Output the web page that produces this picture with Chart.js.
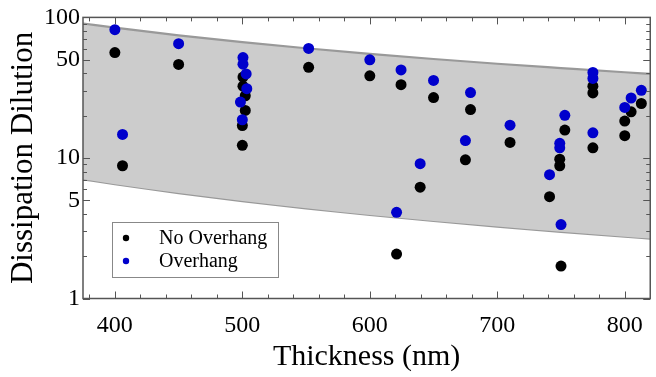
<!DOCTYPE html>
<html>
<head>
<meta charset="utf-8">
<script src="https://cdn.jsdelivr.net/npm/chart.js@4.4.1/dist/chart.umd.min.js"></script>
<style>
    html, body { margin: 0; padding: 0; background: #fff; }
    #wrap { width: 656px; height: 377px; }
</style>
</head>
<body>
<div id="wrap"><canvas id="dilutionChart"></canvas></div>
<script>
// Mesures sans surplomb
const noOverhangX = [400, 450, 406, 500.5, 500.5, 502.3, 502.3, 500, 500, 552, 600, 624.5, 650, 639.5, 621,
    675, 679, 710, 741, 753, 749, 749, 750, 775, 775, 775, 800, 800, 805, 813];
const noOverhangY = [56.2, 46.3, 8.8, 37.6, 32.4, 27.7, 21.8, 17.0, 12.3, 44.1, 38.4, 33.2, 26.9, 6.2, 2.07,
    9.7, 22.1, 12.9, 5.3, 15.8, 9.8, 8.8, 1.70, 32.4, 29.0, 11.8, 18.3, 14.4, 21.3, 24.4];

// Mesures avec surplomb
const overhangX = [400, 450, 406, 500.5, 500.5, 503, 503.5, 498.5, 500, 552, 600, 624.5, 650, 639.5, 621,
    675, 679, 710, 741, 753, 749, 749, 750, 775, 775, 775, 800, 805, 813];
const overhangY = [81.8, 65.0, 14.7, 51.8, 46.5, 39.6, 31.1, 25.0, 18.7, 60.2, 49.9, 42.3, 35.6, 9.1, 4.1,
    13.3, 29.2, 17.1, 7.6, 20.1, 12.7, 11.8, 3.36, 40.6, 36.8, 15.1, 22.9, 26.7, 30.3];

// Bande théorique (bornes haute et basse)
const bandX = [375, 400, 450, 500, 550, 600, 650, 700, 750, 800, 820];
const bandUpper = [90.5, 84.5, 74.5, 66.7, 60.3, 55.0, 50.6, 46.8, 43.6, 40.7, 39.7];
const bandLower = [7.05, 6.51, 5.62, 4.93, 4.38, 3.93, 3.56, 3.25, 2.98, 2.75, 2.67];

// Graduations
const xTicks = [380, 400, 420, 440, 460, 480, 500, 520, 540, 560, 580, 600, 620, 640, 660, 680,
    700, 720, 740, 760, 780, 800];
const xLabelled = [400, 500, 600, 700, 800];
const yTicks = [1, 2, 3, 4, 5, 6, 7, 8, 9, 10, 20, 30, 40, 50, 60, 70, 80, 90, 100];
const yLabelled = [1, 5, 10, 50, 100];

const serif = "'Liberation Serif', 'Times New Roman', serif";

const toPoints = (xs, ys) => xs.map((x, i) => ({ x: x, y: ys[i] }));

// Cadre avec graduations vers l'intérieur sur les quatre côtés
const frameTicks = {
    id: 'frameTicks',
    afterDatasetsDraw(chart) {
        const { ctx, chartArea: a, scales: { x, y } } = chart;
        ctx.save();
        ctx.strokeStyle = '#555';
        ctx.lineWidth = 1;
        ctx.beginPath();
        xTicks.forEach(v => {
            const px = Math.round(x.getPixelForValue(v)) + 0.5;
            const len = xLabelled.includes(v) ? 7 : 4;
            ctx.moveTo(px, a.bottom); ctx.lineTo(px, a.bottom - len);
            ctx.moveTo(px, a.top); ctx.lineTo(px, a.top + len);
        });
        yTicks.forEach(v => {
            const py = Math.round(y.getPixelForValue(v)) + 0.5;
            const len = yLabelled.includes(v) ? 7 : 4;
            ctx.moveTo(a.left, py); ctx.lineTo(a.left + len, py);
            ctx.moveTo(a.right, py); ctx.lineTo(a.right - len, py);
        });
        ctx.stroke();
        ctx.lineWidth = 1.5;
        ctx.strokeRect(a.left, a.top, a.right - a.left, a.bottom - a.top);
        ctx.restore();
    }
};

// Légende encadrée à l'intérieur de la zone du graphique
const insetLegend = {
    id: 'insetLegend',
    afterDraw(chart) {
        const { ctx } = chart;
        const items = chart.data.datasets.filter(ds => ds.label);
        ctx.save();
        ctx.fillStyle = '#fff';
        ctx.fillRect(112, 222, 166, 55);
        ctx.strokeStyle = '#888';
        ctx.lineWidth = 1;
        ctx.strokeRect(112.5, 222.5, 166, 55);
        ctx.font = '20px ' + serif;
        ctx.textBaseline = 'middle';
        items.forEach((ds, i) => {
            const cy = 238 + i * 23;
            ctx.fillStyle = ds.backgroundColor;
            ctx.beginPath();
            ctx.arc(126, cy, 3.2, 0, Math.PI * 2);
            ctx.fill();
            ctx.fillStyle = '#000';
            ctx.fillText(ds.label, 159, cy + 1);
        });
        ctx.restore();
    }
};

new Chart(document.getElementById('dilutionChart'), {
    type: 'scatter',
    data: {
        datasets: [
            {
                type: 'line',
                data: toPoints(bandX, bandUpper),
                borderColor: '#999',
                borderWidth: 2.2,
                backgroundColor: '#cccccc',
                pointRadius: 0,
                cubicInterpolationMode: 'monotone',
                fill: '+1',
                order: 3
            },
            {
                type: 'line',
                data: toPoints(bandX, bandLower),
                borderColor: '#999',
                borderWidth: 2.2,
                pointRadius: 0,
                cubicInterpolationMode: 'monotone',
                fill: false,
                order: 3
            },
            {
                label: 'No Overhang',
                data: toPoints(noOverhangX, noOverhangY),
                backgroundColor: '#000',
                borderWidth: 0,
                pointRadius: 5.5,
                order: 2
            },
            {
                label: 'Overhang',
                data: toPoints(overhangX, overhangY),
                backgroundColor: '#0000cc',
                borderWidth: 0,
                pointRadius: 5.5,
                order: 1
            }
        ]
    },
    options: {
        responsive: true,
        maintainAspectRatio: false,
        animation: false,
        layout: { padding: { top: 13, right: 1, left: 0, bottom: 0 } },
        scales: {
            x: {
                type: 'linear',
                min: 375,
                max: 820,
                grid: { display: false, drawTicks: false },
                border: { display: false },
                afterBuildTicks: scale => { scale.ticks = xTicks.map(v => ({ value: v })); },
                afterFit: scale => { scale.height = 78.5; },
                ticks: {
                    autoSkip: false,
                    maxRotation: 0,
                    padding: 13,
                    color: '#000',
                    font: { family: serif, size: 24 },
                    callback: v => xLabelled.includes(v) ? String(v) : ''
                },
                title: {
                    display: true,
                    text: 'Thickness (nm)',
                    color: '#000',
                    font: { family: serif, size: 30 },
                    padding: { top: 0, bottom: 2 }
                }
            },
            y: {
                type: 'logarithmic',
                min: 1,
                max: 100,
                grid: { display: false, drawTicks: false },
                border: { display: false },
                afterBuildTicks: scale => { scale.ticks = yTicks.map(v => ({ value: v })); },
                afterFit: scale => { scale.width = 83; },
                ticks: {
                    autoSkip: false,
                    padding: 3,
                    color: '#000',
                    font: { family: serif, size: 24 },
                    callback: v => yLabelled.includes(v) ? String(v) : ''
                },
                title: {
                    display: true,
                    text: 'Dissipation Dilution',
                    color: '#000',
                    font: { family: serif, size: 31 },
                    padding: { top: 5, bottom: 0 }
                }
            }
        },
        plugins: {
            legend: { display: false },
            tooltip: { enabled: false }
        }
    },
    plugins: [frameTicks, insetLegend]
});
</script>
</body>
</html>
